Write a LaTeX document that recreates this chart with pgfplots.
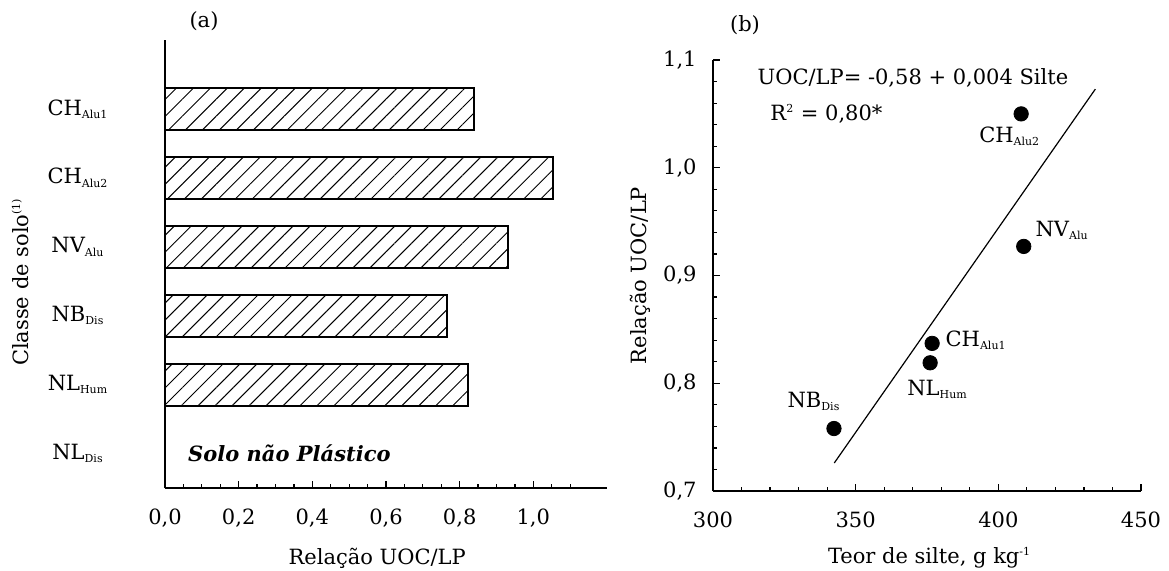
\documentclass[border=0pt]{standalone}
\usepackage{fontspec}
\setmainfont{DejaVu Serif}
\usepackage{pgfplots}
\pgfplotsset{compat=1.18}
\usetikzlibrary{patterns.meta}
\newcommand{\sub}[1]{\textsubscript{\fontsize{5.5}{6}\selectfont #1}}
\newcommand{\supr}[1]{\textsuperscript{\fontsize{5.5}{6}\selectfont #1}}
\begin{document}
\fontsize{10.5pt}{12.6pt}\selectfont
\begin{tikzpicture}
\path[use as bounding box] (0,0) rectangle (584.5pt,285pt);
% ---------- panel (a)
\begin{axis}[
  at={(82.5pt,41pt)}, anchor=south west, scale only axis,
  width=221pt, height=224pt,
  xmin=0, xmax=1.2, ymin=-0.5, ymax=6,
  axis x line=bottom, axis y line=left,
  axis line style={-, line width=0.9pt},
  tick align=inside, xtick pos=bottom,
  major tick length=3.5pt, minor tick length=2pt,
  tick style={black, line width=0.6pt},
  xbar, bar width=21pt, bar shift=0pt,
  xtick={0,0.2,0.4,0.6,0.8,1.0},
  xticklabels={{0,0},{0,2},{0,4},{0,6},{0,8},{1,0}},
  minor xtick={0.05,0.1,0.15,0.25,0.3,0.35,0.45,0.5,0.55,0.65,0.7,0.75,0.85,0.9,0.95,1.05,1.1},
  xticklabel style={yshift=-7pt},
  ytick={0,1,2,3,4,5},
  yticklabels={NL\sub{Dis}, NL\sub{Hum}, NB\sub{Dis}, NV\sub{Alu}, CH\sub{Alu2}, CH\sub{Alu1}},
  y tick style={draw=none},
  yticklabel style={anchor=center, xshift=-40pt},
  xlabel={Relação UOC/LP},
  xlabel style={at={(axis description cs:0.48,-0.156)}, anchor=center},
  ylabel={Classe de solo\supr{(1)}},
  ylabel style={at={(axis description cs:-0.328,0.46)}, anchor=center},
  clip=false,
]
\addplot[draw=black, line width=1pt,
  pattern={Lines[angle=45,distance=6pt,line width=0.5pt]}]
  coordinates {(0.822,1) (0.765,2) (0.932,3) (1.054,4) (0.840,5)};
\node[anchor=west, inner sep=0pt, font=\bfseries\itshape] at (axis cs:0.062,0) {Solo não Plástico};
\end{axis}
% ---------- panel (b)
\begin{axis}[
  at={(356.5pt,39.5pt)}, anchor=south west, scale only axis,
  width=214pt, height=215.5pt,
  xmin=300, xmax=450, ymin=0.7, ymax=1.1,
  axis x line=bottom, axis y line=left,
  axis line style={-, line width=0.9pt},
  tick align=inside, xtick pos=bottom, ytick pos=left,
  major tick length=3.5pt, minor tick length=2pt,
  tick style={black, line width=0.6pt},
  xtick={300,350,400,450},
  xticklabels={300,350,400,450},
  minor xtick={310,320,330,340,360,370,380,390,410,420,430,440},
  ytick={0.7,0.8,0.9,1.0,1.1},
  yticklabels={{0,7},{0,8},{0,9},{1,0},{1,1}},
  minor ytick={0.72,0.74,0.76,0.78,0.82,0.84,0.86,0.88,0.92,0.94,0.96,0.98,1.02,1.04,1.06,1.08},
  xticklabel style={yshift=-7pt},
  yticklabel style={xshift=-4.5pt},
  xlabel={Teor de silte, g kg\supr{-1}},
  xlabel style={at={(axis description cs:0.506,-0.155)}, anchor=center},
  ylabel={Relação UOC/LP},
  ylabel style={at={(axis description cs:-0.17,0.5)}, anchor=center},
  clip=false,
]
\addplot[black, line width=0.6pt] coordinates {(342.5,0.726) (434,1.073)};
\addplot[only marks, mark=*, mark size=3.6pt, black]
  coordinates {(408,1.050) (408.9,0.927) (376.8,0.837) (376.1,0.819) (342.4,0.758)};
\node[anchor=west, inner sep=0pt] at (axis cs:315.5,1.083) {UOC/LP= -0,58 + 0,004 Silte};
\node[anchor=west, inner sep=0pt] at (axis cs:320,1.05) {R\supr{2} = 0,80*};
\node at (axis cs:404,1.029) {CH\sub{Alu2}};
\node[anchor=west, inner sep=0pt] at (axis cs:412.9,0.942) {NV\sub{Alu}};
\node[anchor=west, inner sep=0pt] at (axis cs:381.4,0.84) {CH\sub{Alu1}};
\node at (axis cs:378.7,0.794) {NL\sub{Hum}};
\node at (axis cs:335.4,0.783) {NB\sub{Dis}};
\end{axis}
\node at (102pt,274.5pt) {(a)};
\node at (372.5pt,272.5pt) {(b)};
\end{tikzpicture}
\end{document}
